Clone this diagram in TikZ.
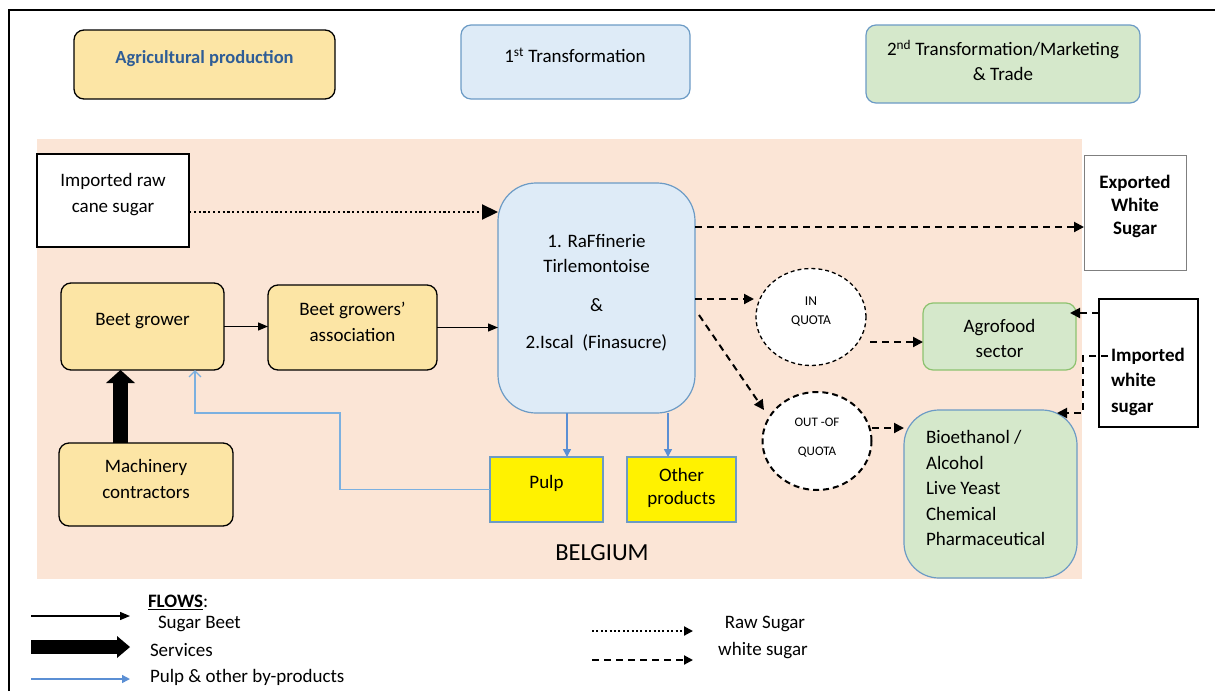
\documentclass[tikz,border=0pt]{standalone}
\usepackage{fontspec}
\setmainfont{Carlito}
\usetikzlibrary{arrows.meta,shapes.geometric,calc}
\definecolor{peach}{HTML}{FBE5D6}
\definecolor{agrfill}{HTML}{FCE5A5}
\definecolor{agrtext}{HTML}{2F5D96}
\definecolor{lblue}{HTML}{DEEBF7}
\definecolor{bgrey}{HTML}{6C9BC5}
\definecolor{lgreen}{HTML}{D5E8CB}
\definecolor{agrgreen}{HTML}{8DC26F}
\definecolor{pblue}{HTML}{5B8FD4}
\definecolor{fblue}{HTML}{7BB0E0}
\definecolor{exgrey}{HTML}{7F7F7F}
\newcommand\myfs[2]{\fontsize{#1}{#2}\selectfont}
\begin{document}
\begin{tikzpicture}[x=1pt,y=-1pt,
  every node/.style={inner sep=0pt, outer sep=0pt},
  txt/.style={align=center, font=\myfs{19}{26}},
  agri/.style={draw=black, line width=1.3pt, fill=agrfill, rounded corners=10pt},
  bluebox/.style={draw=bgrey, line width=1.2pt, fill=lblue, rounded corners=10pt},
  greenbox/.style={draw=bgrey, line width=1.2pt, fill=lgreen, rounded corners=10pt},
  whitebox/.style={draw=black, line width=1.3pt, fill=white},
  yelbox/.style={draw=bgrey, line width=1.2pt, fill=yellow},
  quota/.style={ellipse, draw=black, fill=white},
  flow/.style={draw=black, line width=1.3pt, -{Triangle[length=10pt,width=8pt]}},
  wflow/.style={draw=black, line width=2pt, dash pattern=on 7pt off 5pt, -{Triangle[length=10pt,width=10pt]}},
  rflow/.style={draw=black, line width=2.2pt, dash pattern=on 2.2pt off 2.6pt, -{Triangle[length=16pt,width=15pt]}},
  pflow/.style={draw=pblue, line width=1.4pt, -{Triangle[length=8pt,width=8pt]}},
  pfeed/.style={draw=fblue, line width=1.3pt, -{Straight Barb[length=6pt,width=12pt]}},
  fat/.style={draw=black, line width=15pt, -{Triangle[length=13pt,width=29pt,line width=0pt]}},
]
\useasboundingbox (0,0) rectangle (1215,691);
% frame and Belgium background
\draw[line width=1.5pt] (9,691) -- (9,10) -- (1215,10);
\fill[peach] (37,139) rectangle (1082,579);

% header boxes
\node[agri, minimum width=261pt, minimum height=69pt] (agr) at (204.5,64.5) {};
\node[txt, font=\myfs{18.5}{24}\bfseries, text=agrtext] (agrt) at (204.5,59) {Agricultural production};
\node[bluebox, minimum width=229pt, minimum height=74pt] (tr1) at (575.5,62) {};
\node[txt] (tr1t) at (575,55) {1\textsuperscript{st} Transformation};
\node[greenbox, minimum width=274pt, minimum height=78pt] (tr2) at (1003,64) {};
\node[txt, font=\myfs{19}{25}] (tr2t) at (1003,60.5) {2\textsuperscript{nd} Transformation/Marketing\\\& Trade};

% main nodes
\node[whitebox, minimum width=152pt, minimum height=93pt] (cane) at (113,200.5) {};
\node[txt] (canet) at (113,195) {Imported raw\\cane sugar};
\node[bluebox, rounded corners=38pt, minimum width=197pt, minimum height=230pt] (raf) at (596.5,298) {};
\node[txt, font=\myfs{19}{25}] (raft) at (596.5,292.5) {1. RaFfinerie\\Tirlemontoise\\[14pt]\&\\[12pt]2.Iscal~~(Finasucre)};
\node[draw=exgrey, line width=1pt, fill=white, minimum width=102pt, minimum height=115pt] (exp) at (1135,212.5) {};
\node[txt, font=\myfs{19}{23}\bfseries] (expt) at (1135,206) {Exported\\White\\Sugar};
\node[agri, minimum width=163pt, minimum height=87pt] (grower) at (142.5,326.5) {};
\node[txt] (growert) at (142.5,321) {Beet grower};
\node[agri, minimum width=169pt, minimum height=85pt] (assoc) at (352.5,327.5) {};
\node[txt] (assoct) at (352.5,321.5) {Beet growers’\\association};
\node[agri, minimum width=174pt, minimum height=83pt] (mach) at (146,484.5) {};
\node[txt] (macht) at (146,479) {Machinery\\contractors};
\node[yelbox, minimum width=113pt, minimum height=65pt] (pulp) at (546.5,489.5) {};
\node[txt] (pulpt) at (546.5,483) {Pulp};
\node[yelbox, minimum width=109pt, minimum height=65pt] (other) at (681.5,489.5) {};
\node[txt, font=\myfs{19}{23}] (othert) at (681.5,487.5) {Other\\products};
\node[quota, dash pattern=on 4pt off 3pt, line width=1.3pt, minimum width=110pt, minimum height=97pt] (inq) at (811,317) {};
\node[txt, font=\myfs{13.5}{19}] (inqt) at (811,311.5) {IN\\QUOTA};
\node[quota, dash pattern=on 6pt off 4pt, line width=2pt, minimum width=109pt, minimum height=98pt] (outq) at (817,441) {};
\node[txt, font=\myfs{13}{29}] (outqt) at (817,437.5) {OUT -OF\\QUOTA};
\node[draw=agrgreen, line width=1.2pt, fill=lgreen, rounded corners=10pt, minimum width=153pt, minimum height=67pt] (agro) at (999.5,336.5) {};
\node[txt, font=\myfs{19}{25}] (agrot) at (999.5,338.5) {Agrofood\\sector};
\node[greenbox, rounded corners=35pt, minimum width=173pt, minimum height=168pt] (bio) at (990.5,494) {};
\node[align=left, anchor=west, font=\myfs{19}{25.5}] (biot) at (926,488) {Bioethanol /\\Alcohol\\Live Yeast\\Chemical\\Pharmaceutical};
\node[whitebox, line width=1.5pt, minimum width=99pt, minimum height=128pt] (impw) at (1148.5,363) {};
\node[align=left, anchor=west, font=\myfs{19}{25.5}\bfseries] (impwt) at (1111,381.5) {Imported\\white\\sugar};
\node[font=\myfs{24.5}{28}] (belg) at (602,553) {BELGIUM};

% helper coordinates
\coordinate (thk) at (120.5,0);
\coordinate (px) at (567,0);
\coordinate (ox) at (668,0);
\coordinate (fb1) at (340,413);
\coordinate (fb2) at (195,413);
\coordinate (iw1) at (1083,356);

% connectors
\coordinate (c1) at ($(cane.east)+(0,11.5)$);
\draw[rflow] (c1) -- (raf.west |- c1);
\coordinate (c2) at ($(raf.east)+(0,-71)$);
\draw[wflow] (c2) -- (exp.west |- c2);
\draw[flow] (grower.east) -- (assoc.west |- grower.east);
\draw[flow] (assoc.east) -- (raf.west |- assoc.east);
\draw[fat] (mach.north -| thk) -- (grower.south -| thk);
\draw[pfeed] (pulp.west) -| (fb1) -- (fb2) -- (grower.south -| fb2);
\draw[pflow] (raf.south -| px) -- (pulp.north -| px);
\draw[pflow] (raf.south -| ox) -- (other.north -| ox);
\coordinate (c3) at ($(raf.east)+(0,1)$);
\draw[wflow] (c3) -- ($(inq.west |- c3)+(-2,0)$);
\draw[wflow] ($(raf.east)+(4,17)$) -- ($(outq.center)+(-53,-31)$);
\coordinate (c4) at ($(inq.center)+(59,25)$);
\draw[wflow] (c4) -- (agro.west |- c4);
\coordinate (c5) at ($(outq.center)+(55,-13)$);
\draw[wflow] (c5) -- (bio.west |- c5);
\coordinate (c6) at ($(impw.west)+(0,-50)$);
\draw[wflow] (c6) -- ($(agro.east |- c6)+(-6,0)$);
\draw[wflow] ($(impw.west)+(9,-7)$) -- (iw1) |- ($(bio.north east)+(-20,3)$);

% legend
\node[anchor=west, font=\myfs{19}{23}] (flows) at (148,602) {\underline{\textbf{FLOWS}}:};
\coordinate (l1s) at (31,616); \coordinate (l1e) at (130,616);
\coordinate (l2s) at (31,647); \coordinate (l2e) at (130,647);
\coordinate (l3s) at (31,679); \coordinate (l3e) at (130,679);
\draw[flow] (l1s) -- (l1e);
\draw[draw=black, line width=14pt, -{Triangle[length=13pt,width=22pt,line width=0pt]}] (l2s) -- (l2e);
\draw[draw=pblue, line width=1.4pt, -{Triangle[length=8pt,width=8pt]}] (l3s) -- (l3e);
\node[anchor=west, font=\myfs{19}{23}] (lg1) at (158,624) {Sugar Beet};
\node[anchor=west, font=\myfs{19}{23}] (lg2) at (150,650) {Services};
\node[anchor=west, font=\myfs{19}{23}] (lg3) at (150,677) {Pulp \& other by-products};
\coordinate (l4s) at (592,631); \coordinate (l4e) at (693,631);
\coordinate (l5s) at (592,660); \coordinate (l5e) at (693,660);
\draw[draw=black, line width=2pt, dash pattern=on 2pt off 2.4pt, -{Triangle[length=9pt,width=9pt]}] (l4s) -- (l4e);
\draw[draw=black, line width=2pt, dash pattern=on 7pt off 5pt, -{Triangle[length=9pt,width=9pt]}] (l5s) -- (l5e);
\node[font=\myfs{19}{23}] (lg4) at (765,624) {Raw Sugar};
\node[font=\myfs{19}{23}] (lg5) at (763,651) {white sugar};
\end{tikzpicture}
\end{document}
